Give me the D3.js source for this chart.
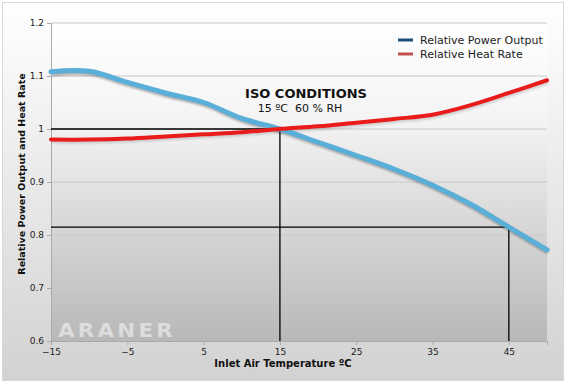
<!DOCTYPE html>
<html><head><meta charset="utf-8">
<script src="https://cdn.jsdelivr.net/npm/d3@7"></script>
<style>body{margin:0;background:#fff}svg{display:block}text{font-family:"DejaVu Sans",Verdana,sans-serif}</style>
</head><body>
<svg id="c" width="566" height="383"></svg>
<script>
const temps = [-15,-10,-5,0,5,10,15,20,25,30,35,40,45,50];
const powerOutput = [1.108,1.109,1.088,1.068,1.050,1.020,1.000,0.975,0.950,0.924,0.894,0.858,0.815,0.772];
const heatRate = [0.980,0.980,0.982,0.986,0.990,0.994,1.000,1.005,1.012,1.019,1.027,1.045,1.068,1.092];
const xTicks = [-15,-5,5,15,25,35,45];
const yTicks = [0.6,0.7,0.8,0.9,1.0,1.1,1.2];
const seriesNames = ["Relative Power Output","Relative Heat Rate"];
const refPoints = [{x:15,y:1.0},{x:45,y:0.815}];

const svg = d3.select("#c");
const defs = svg.append("defs");
const g1 = defs.append("linearGradient").attr("id","bg").attr("x1",0).attr("y1",0).attr("x2",0).attr("y2",1);
g1.append("stop").attr("offset","0%").attr("stop-color","#ffffff");
g1.append("stop").attr("offset","100%").attr("stop-color","#d2d2d2");
const g2 = defs.append("linearGradient").attr("id","pbg").attr("x1",0).attr("y1",0).attr("x2",0).attr("y2",1);
g2.append("stop").attr("offset","0%").attr("stop-color","#ffffff");
g2.append("stop").attr("offset","30%").attr("stop-color","#f4f4f4");
g2.append("stop").attr("offset","100%").attr("stop-color","#b8b8b8");
const f = defs.append("filter").attr("id","sh").attr("x","-5%").attr("y","-5%").attr("width","110%").attr("height","120%");
f.append("feGaussianBlur").attr("stdDeviation",1.2);

svg.append("rect").attr("x",2.5).attr("y",2.5).attr("width",561).attr("height",378)
  .attr("fill","url(#bg)").attr("stroke","#d8d8d8");

const L=51, R=547, T=23, B=341;
const x = d3.scaleLinear().domain([-15,50]).range([L,R]);
const y = d3.scaleLinear().domain([0.6,1.2]).range([B,T]);

svg.append("rect").attr("x",L).attr("y",T).attr("width",R-L).attr("height",B-T).attr("fill","url(#pbg)");

// gridlines
svg.append("g").selectAll("line").data(yTicks.slice(1)).join("line")
  .attr("x1",L).attr("x2",R).attr("y1",d=>y(d)).attr("y2",d=>y(d))
  .attr("stroke","#c8c8c8").attr("stroke-width",1);

// watermark
svg.append("text").attr("x",58).attr("y",337).text("ARANER")
  .attr("fill","#ffffff").attr("fill-opacity",0.5).attr("font-size",20).attr("font-weight","bold")
  .attr("letter-spacing",3).attr("textLength",118).attr("lengthAdjust","spacingAndGlyphs");

// axes
const xa = svg.append("g").attr("transform",`translate(0,${B})`)
  .call(d3.axisBottom(x).tickValues(xTicks).tickSize(4).tickFormat(d3.format("d")));
const ya = svg.append("g").attr("transform",`translate(${L},0)`)
  .call(d3.axisLeft(y).tickValues(yTicks).tickSize(4).tickFormat(d=> d===1?"1":d3.format(".1f")(d)));
[xa,ya].forEach(a=>{
  a.select(".domain").attr("stroke","#aaaaaa");
  a.selectAll(".tick line").attr("stroke","#aaaaaa");
  a.selectAll("text").attr("font-size",9).attr("fill","#222");
});
xa.selectAll("text").attr("dy","0.8em");

// reference lines
const ref = svg.append("g").attr("stroke","#000").attr("stroke-width",1.3).attr("fill","none");
refPoints.forEach(p=>{
  ref.append("path").attr("d",`M${L},${y(p.y)}H${x(p.x)}V${B}`);
});

const line = d3.line().x((d,i)=>x(temps[i])).y(d=>y(d)).curve(d3.curveCatmullRom.alpha(0.5));
svg.append("path").attr("d",line(powerOutput)).attr("fill","none").attr("stroke","#000")
  .attr("stroke-opacity",0.3).attr("stroke-width",5).attr("transform","translate(1,2)").attr("filter","url(#sh)");
svg.append("path").attr("d",line(heatRate)).attr("fill","none").attr("stroke","#000")
  .attr("stroke-opacity",0.15).attr("stroke-width",4).attr("transform","translate(1,2)").attr("filter","url(#sh)");
svg.append("path").attr("d",line(powerOutput)).attr("fill","none").attr("stroke","#5aafd9").attr("stroke-width",5).attr("stroke-linecap","round");
svg.append("path").attr("d",line(heatRate)).attr("fill","none").attr("stroke","#ea1b1b").attr("stroke-width",4).attr("stroke-linecap","round");

// annotation
svg.append("text").attr("x",306).attr("y",98).attr("text-anchor","middle").attr("font-size",13).attr("font-weight","bold").attr("fill","#111").text("ISO CONDITIONS");
svg.append("text").attr("x",300).attr("y",112).attr("text-anchor","middle").attr("font-size",11).attr("fill","#111").attr("xml:space","preserve").text("15 ºC  60 % RH");

// legend
const legColors = ["#1f4e79","#c0504d"];
const lg = svg.append("g").attr("transform","translate(398,40)");
seriesNames.forEach((n,i)=>{
  lg.append("line").attr("x1",0).attr("x2",15).attr("y1",i*14).attr("y2",i*14).attr("stroke",legColors[i]).attr("stroke-width",3);
  lg.append("text").attr("x",22).attr("y",i*14+4).attr("font-size",11).attr("fill","#222").text(n);
});

// axis titles
svg.append("text").attr("x",283).attr("y",367).attr("text-anchor","middle").attr("font-size",10).attr("font-weight","bold").attr("fill","#111").text("Inlet Air Temperature ºC");
svg.append("text").attr("transform","translate(25,174) rotate(-90)").attr("text-anchor","middle").attr("font-size",9.5).attr("font-weight","bold").attr("fill","#111").text("Relative Power Output and Heat Rate");
</script>
</body></html>
